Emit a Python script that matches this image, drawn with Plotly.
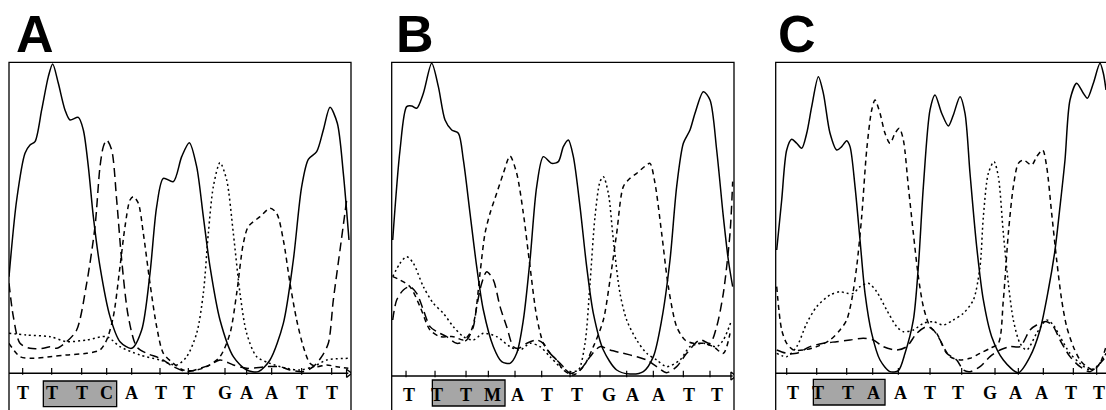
import plotly.graph_objects as go

# ---- data: signal traces (x: position along read, y: signal above baseline)
A_T = [(27,290),(50,520),(75,660),(90,685),(105,695),(125,790),(145,890),(158,928),(175,870),(195,790),(210,760),(235,768),(250,730),(265,620),(280,470),(300,320),(330,170),(360,95),(395,75),(425,130),(450,300),(470,500),(490,585),(520,575),(545,650),(568,692),(590,620),(610,470),(630,320),(660,160),(700,50),(740,10),(775,5),(810,40),(850,150),(880,340),(905,560),(925,642),(950,665),(970,730),(990,798),(1012,750),(1030,600),(1047,400)]
A_C = [(27,270),(40,170),(60,90),(90,75),(130,75),(150,80),(170,75),(200,95),(230,130),(260,270),(285,440),(300,620),(310,680),(320,700),(335,670),(350,520),(365,340),(385,170),(410,80),(440,60),(480,45),(520,20),(560,5),(600,15),(630,25),(660,40),(700,25),(740,15),(800,20),(840,20),(870,10),(910,5),(940,20),(965,50),(985,90),(1000,220),(1020,370),(1040,520)]
A_A = [(27,90),(60,50),(100,45),(150,50),(200,55),(260,60),(300,70),(320,100),(340,170),(360,320),(375,440),(390,520),(400,530),(415,510),(430,420),(450,270),(470,140),(490,60),(520,30),(550,10),(580,8),(620,20),(660,50),(690,120),(710,240),(730,390),(745,440),(780,470),(810,495),(830,480),(850,400),(870,270),(890,160),(910,80),(930,30),(950,20),(980,25),(1010,20),(1045,15)]
A_G = [(27,120),(80,115),(150,110),(200,95),(260,100),(320,110),(360,80),(420,55),(480,40),(530,25),(560,50),(590,120),(610,240),(625,420),(640,560),(660,632),(680,580),(700,420),(720,240),(740,120),(770,50),(810,30),(860,15),(900,10),(940,20),(980,40),(1048,45)]

B_T = [(68,408),(90,678),(110,808),(125,810),(140,803),(160,848),(185,938),(205,868),(225,768),(245,738),(265,728),(280,648),(300,488),(320,328),(340,198),(370,88),(395,43),(420,38),(440,68),(460,168),(480,348),(500,568),(520,658),(545,638),(565,643),(580,688),(595,708),(610,658),(630,508),(650,328),(670,188),(700,78),(740,18),(780,6),(820,13),(850,58),(875,168),(900,348),(920,568),(940,698),(960,738),(975,788),(1000,853),(1020,828),(1040,678),(1060,478),(1075,348),(1088,268)]
B_C = [(68,168),(80,228),(100,258),(120,268),(140,248),(160,198),(180,148),(200,133),(230,118),(260,98),(290,108),(310,148),(320,208),(335,278),(350,313),(370,288),(390,208),(410,148),(430,88),(445,83),(470,98),(500,108),(520,98),(540,68),(560,48),(580,28),(600,8),(630,18),(660,58),(690,88),(720,78),(760,68),(800,58),(830,48),(860,28),(890,10),(920,28),(950,68),(990,108),(1020,98),(1040,148),(1060,248),(1080,428),(1088,583)]
B_A = [(68,298),(90,288),(120,268),(150,208),(180,138),(210,118),(250,118),(280,108),(300,128),(315,178),(330,308),(345,428),(360,488),(380,548),(400,608),(420,660),(440,608),(460,488),(480,328),(500,178),(520,98),(540,68),(560,48),(580,18),(610,3),(640,28),(670,88),(700,168),(720,288),(740,428),(760,568),(780,593),(800,608),(830,633),(840,638),(855,578),(875,428),(895,268),(920,148),(945,108),(970,98),(1000,98),(1030,88),(1060,68),(1080,128)]
B_G = [(68,298),(90,338),(110,358),(130,338),(160,268),(190,218),(220,188),(250,148),(280,118),(310,108),(340,128),(380,118),(420,88),(450,78),(480,98),(510,88),(540,58),(570,28),(600,13),(625,18),(645,98),(660,278),(675,478),(690,583),(700,598),(715,548),(730,408),(750,248),(770,168),(800,108),(830,68),(860,48),(890,28),(930,48),(960,88),(1000,98),(1040,88),(1060,108),(1085,168)]

C_T = [(80,370),(95,520),(110,670),(125,702),(140,690),(155,675),(170,720),(185,800),(205,890),(220,840),(240,720),(260,670),(275,680),(290,698),(300,680),(315,560),(330,400),(345,240),(365,120),(390,40),(420,5),(445,8),(465,60),(490,160),(505,320),(520,560),(540,790),(555,835),(575,780),(595,742),(610,775),(630,830),(645,780),(660,600),(680,380),(700,220),(725,110),(760,40),(805,2),(840,50),(870,130),(895,250),(915,370),(930,500),(945,640),(960,820),(980,870),(1000,840),(1012,825),(1030,870),(1050,930),(1060,900),(1068,850)]
C_C = [(80,70),(110,60),(140,60),(180,80),(220,90),(260,95),(300,100),(340,105),(370,100),(400,80),(440,70),(470,80),(500,120),(530,140),(550,130),(570,100),(590,60),(620,40),(640,10),(660,5),(690,20),(720,50),(750,70),(780,80),(810,80),(840,130),(860,145),(890,155),(910,140),(930,100),(960,50),(990,20),(1020,5),(1050,30),(1068,50)]
C_A = [(80,260),(95,130),(110,90),(130,70),(160,70),(200,80),(240,100),(270,130),(290,160),(305,220),(320,320),(335,470),(350,670),(365,790),(375,820),(390,780),(405,720),(420,690),(435,720),(448,735),(460,700),(475,560),(490,420),(505,290),(520,200),(540,140),(560,120),(580,80),(600,50),(630,40),(660,45),(690,60),(720,75),(745,90),(760,220),(775,420),(790,560),(805,630),(820,640),(845,625),(860,650),(878,670),(890,620),(905,480),(920,340),(935,220),(950,140),(970,80),(990,40),(1010,20),(1030,10),(1050,30),(1068,80)]
C_G = [(80,60),(110,50),(140,80),(170,150),(200,200),(240,235),(270,245),(290,240),(310,240),(330,260),(355,270),(380,245),(410,190),(440,140),(460,125),(490,130),(520,150),(550,155),(580,145),(610,160),(640,180),(670,220),(690,320),(700,470),(715,600),(732,635),(745,590),(760,420),(775,270),(790,160),(810,90),(830,70),(860,120),(890,160),(910,145),(930,110),(960,60),(990,30),(1020,10),(1050,30),(1068,60)]

# base calls
A_SEQ = list("TTTCATTGAATT")
B_SEQ = list("TTTMATTGAATT")
C_SEQ = list("TTTAATTGAATT")
A_LET_X = [70,155,245,320,395,482,568,675,738,815,905,995]
B_LET_X = [118,200,288,367,443,530,622,718,787,865,958,1040]
C_LET_X = [128,205,295,370,452,540,625,720,795,875,962,1048]
A_TICK_X = [68,155,245,320,395,480,565,675,740,815,905,995]
B_TICK_X = [108,195,288,355,435,515,600,690,770,850,940,1020]
C_TICK_X = [110,200,290,368,445,540,635,735,805,880,970,1040]
LABELS = ["A", "B", "C"]

W, H = 1106, 410
TOP_PX = 62.3

panels = [
    dict(traces=dict(T=A_T, C=A_C, A=A_A, G=A_G), seq=A_SEQ, letx=A_LET_X, tickx=A_TICK_X,
         px=(9, 351), xr=(27, 1053), yr=(-110, 933), lety=-60, box=(130, 350, -100, -23), arrow=1045,
         lab_px=14),
    dict(traces=dict(T=B_T, C=B_C, A=B_A, G=B_G), seq=B_SEQ, letx=B_LET_X, tickx=B_TICK_X,
         px=(391.7, 734), xr=(65, 1092), yr=(-102, 941), lety=-57, box=(187, 405, -90, -12), arrow=1088,
         lab_px=394),
    dict(traces=dict(T=C_T, C=C_C, A=C_A, G=C_G), seq=C_SEQ, letx=C_LET_X, tickx=C_TICK_X,
         px=(775.7, 1106), xr=(77, 1068), yr=(-110, 933), lety=-60, box=(190, 405, -95, -18), arrow=None,
         lab_px=776),
]

STYLE = dict(T="solid", C="9px,5px", A="5px,4px", G="2px,3px")

fig = go.Figure()
shapes, annotations = [], []
ydom = [0, 1 - TOP_PX / H]
for i, p in enumerate(panels):
    n = "" if i == 0 else str(i + 1)
    xa, ya = "x" + n, "y" + n
    for base in ["G", "A", "C", "T"]:
        pts = p["traces"][base]
        fig.add_trace(go.Scatter(
            x=[a for a, b in pts], y=[b for a, b in pts], mode="lines", xaxis=xa, yaxis=ya,
            line=dict(color="black", width=1.5, dash=STYLE[base], shape="spline", smoothing=0.8),
            showlegend=False, hoverinfo="skip"))
    # baseline axis
    x_end = p["arrow"] if p["arrow"] else p["xr"][1]
    fig.add_trace(go.Scatter(x=[p["xr"][0], x_end], y=[0, 0], mode="lines", xaxis=xa, yaxis=ya,
                             line=dict(color="black", width=1.5), showlegend=False, hoverinfo="skip"))
    if p["arrow"]:
        fig.add_trace(go.Scatter(x=[x_end], y=[0], mode="markers", xaxis=xa, yaxis=ya,
                                 marker=dict(symbol="triangle-right-open", size=7, color="black",
                                             line=dict(width=1.3)),
                                 showlegend=False, hoverinfo="skip"))
    tx, ty = [], []
    for t in p["tickx"]:
        tx += [t, t, None]
        ty += [-4, 16, None]
    fig.add_trace(go.Scatter(x=tx, y=ty, mode="lines", xaxis=xa, yaxis=ya,
                             line=dict(color="black", width=1.2), showlegend=False, hoverinfo="skip"))
    # highlight box
    bx0, bx1, by0, by1 = p["box"]
    shapes.append(dict(type="rect", xref=xa, yref=ya, x0=bx0, x1=bx1, y0=by0, y1=by1,
                       fillcolor="#a6a6a6", line=dict(color="black", width=1.3), layer="below"))
    # frame
    shapes.append(dict(type="path", xref="paper", yref="paper",
                       path=f"M {p['px'][0]/W} -0.1 L {p['px'][0]/W} {ydom[1]} L {p['px'][1]/W} {ydom[1]} L {p['px'][1]/W} -0.1"
                       if i < 2 else
                       f"M {p['px'][0]/W} -0.1 L {p['px'][0]/W} {ydom[1]} L 1.05 {ydom[1]}",
                       line=dict(color="black", width=1.3)))
    for lx, ch in zip(p["letx"], p["seq"]):
        annotations.append(dict(x=lx, y=p["lety"], xref=xa, yref=ya, text=f"<b>{ch}</b>", showarrow=False,
                                font=dict(family="Liberation Serif", size=18, color="black")))
    annotations.append(dict(x=p["lab_px"] / W, y=1 - 34 / H, xref="paper", yref="paper", xanchor="left",
                            yanchor="middle", text=f"<b>{LABELS[i]}</b>", showarrow=False,
                            font=dict(family="Liberation Sans", size=52, color="black")))
    fig.layout["xaxis" + n] = dict(domain=[p["px"][0] / W, p["px"][1] / W], range=list(p["xr"]),
                                   visible=False, anchor=ya)
    fig.layout["yaxis" + n] = dict(domain=ydom, range=list(p["yr"]), visible=False, anchor=xa)

fig.update_layout(width=W, height=H, margin=dict(l=0, r=0, t=0, b=0), plot_bgcolor="white",
                  paper_bgcolor="white", shapes=shapes, annotations=annotations)
fig.write_html("out.html", config={"displayModeBar": False},
               post_script="document.body.style.margin='0';document.body.style.overflow='hidden';")
